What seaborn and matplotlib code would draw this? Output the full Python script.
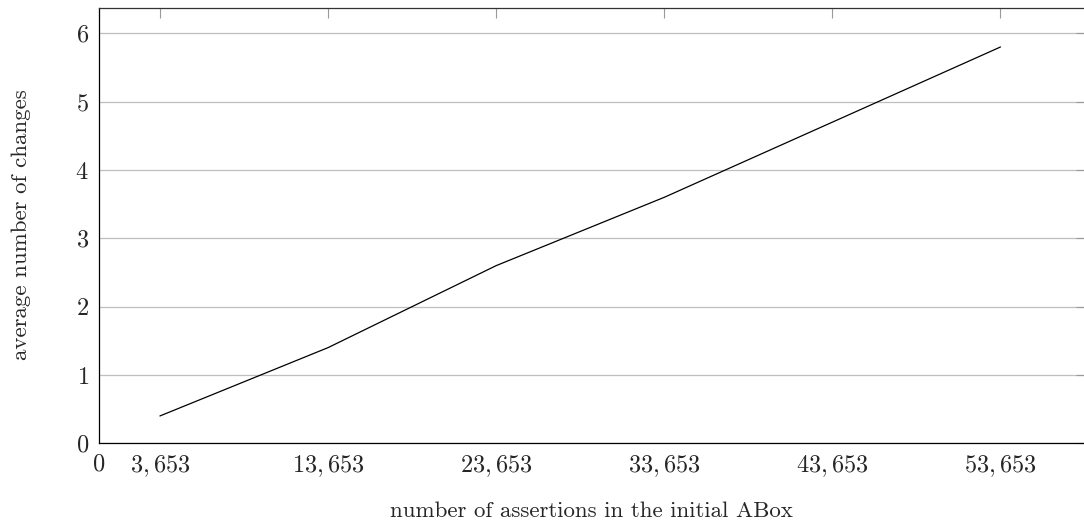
import numpy as np
import pandas as pd
import matplotlib
matplotlib.use("Agg")
import matplotlib.pyplot as plt
import seaborn as sns

assertions = [3653, 13653, 23653, 33653, 43653, 53653]
changes = [0.4, 1.4, 2.6, 3.6, 4.7, 5.8]
x_ticks = [0, 3653, 13653, 23653, 33653, 43653, 53653]
x_tick_labels = ["$0$", "$3,653$", "$13,653$", "$23,653$", "$33,653$", "$43,653$", "$53,653$"]
y_ticks = [0, 1, 2, 3, 4, 5, 6]

df = pd.DataFrame({"assertions": assertions, "changes": changes})

sns.set_style("white")
plt.rcParams["font.family"] = "serif"
plt.rcParams["font.serif"] = ["cmr10", "DejaVu Serif"]
plt.rcParams["mathtext.fontset"] = "cm"
plt.rcParams["axes.formatter.use_mathtext"] = True

W, H = 1084, 528
fig = plt.figure(figsize=(W / 100, H / 100), dpi=100)
left, right, bottom, top = 98.5, 1086, 443.3, 8.3
ax = fig.add_axes([left / W, 1 - bottom / H, (right - left) / W, (bottom - top) / H])

sns.lineplot(data=df, x="assertions", y="changes", ax=ax, color="black", linewidth=0.9)

xmax = 53653 + (right - 1000.5) / ((1000.5 - 160) / 50000)
ax.set_xlim(0, xmax)
ax.set_ylim(0, (443.3 - 8.3) / 68.33)

ax.set_xticks(x_ticks)
ax.set_xticklabels(x_tick_labels)
ax.set_yticks(y_ticks)
ax.set_yticklabels([f"${v}$" for v in y_ticks])

ax.tick_params(axis="both", direction="in", length=7, width=0.8, color="#999999",
               labelsize=17.5, top=True, right=True)
ax.tick_params(axis="x", pad=7)
ax.tick_params(axis="y", pad=7)

ax.grid(axis="y", color="#bfbfbf", linewidth=0.9)
ax.grid(axis="x", visible=False)
ax.set_axisbelow(True)

for s in ax.spines.values():
    s.set_color("#333333")
    s.set_linewidth(0.9)
ax.spines["left"].set_color("black")
ax.spines["bottom"].set_color("black")

ax.set_xlabel("number of assertions in the initial ABox", fontsize=16.5)
ax.set_ylabel("average number of changes", fontsize=16.5)
ax.xaxis.set_label_coords((591 - left) / (right - left), -(501 - bottom) / (bottom - top))
ax.yaxis.set_label_coords(-(left - 31) / (right - left), (bottom - 225) / (bottom - top))

fig.savefig("out.png", dpi=100)
